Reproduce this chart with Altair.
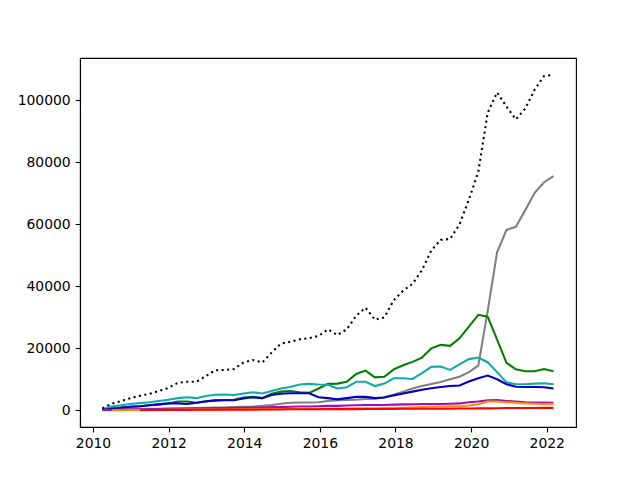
import altair as alt
import pandas as pd

# quarterly positions (decimal years)
years = [round(2010.25 + 0.2485 * i, 4) for i in range(49)]

# values in thousands
total_k = [0.6, 2.1, 3.0, 3.9, 4.7, 5.3, 6.2, 7.2, 8.8, 9.2, 9.2, 11.0, 12.9, 13.0, 13.3,
           15.4, 16.2, 15.4, 18.6, 21.5, 22.1, 22.9, 23.3, 24.0, 26.1, 24.3, 26.1, 30.5,
           33.1, 29.2, 30.0, 35.5, 38.6, 40.8, 45.2, 51.6, 55.0, 55.3, 60.0, 68.0, 77.0,
           96.0, 102.6, 98.0, 93.9, 97.4, 103.5, 107.9, 108.3]
gray_k = [0.2, 0.3, 0.3, 0.4, 0.4, 0.5, 0.5, 0.6, 0.6, 0.7, 0.7, 0.8, 0.9, 0.9, 1.0, 1.1,
          1.2, 1.4, 1.7, 2.1, 2.4, 2.5, 2.5, 2.6, 3.0, 3.2, 3.3, 3.4, 3.6, 3.7, 4.2, 5.0,
          6.0, 7.0, 7.8, 8.5, 9.1, 10.0, 10.8, 12.3, 14.4, 32.0, 51.0, 58.2, 59.2, 64.6,
          70.2, 73.6, 75.6]
green_k = [0.3, 0.6, 0.9, 1.1, 1.3, 1.6, 1.9, 2.2, 2.8, 2.8, 2.4, 2.8, 3.3, 3.3, 3.4, 4.1,
           4.3, 3.9, 5.3, 6.0, 6.2, 5.8, 5.6, 7.0, 8.5, 8.6, 9.2, 11.7, 12.8, 10.6, 10.8,
           13.2, 14.5, 15.6, 17.0, 20.0, 21.1, 20.8, 23.2, 27.0, 30.8, 30.2, 22.8, 15.3,
           13.2, 12.6, 12.6, 13.3, 12.6]
cyan_k = [0.3, 1.2, 1.6, 2.0, 2.3, 2.6, 3.0, 3.4, 3.9, 4.2, 3.9, 4.6, 5.0, 5.1, 4.9, 5.4,
          5.8, 5.4, 6.2, 7.0, 7.5, 8.3, 8.5, 8.3, 8.2, 7.0, 7.4, 9.2, 9.2, 7.8, 8.6, 10.3,
          10.3, 10.1, 12.0, 14.0, 14.1, 13.0, 14.8, 16.5, 17.0, 15.5, 12.3, 9.0, 8.4, 8.4,
          8.6, 8.7, 8.4]
blue_k = [0.1, 0.5, 0.8, 1.1, 1.3, 1.6, 1.9, 2.2, 2.2, 2.0, 2.4, 2.9, 3.1, 3.2, 3.2, 3.8,
          4.2, 3.9, 4.9, 5.3, 5.5, 5.5, 5.5, 4.2, 3.9, 3.5, 3.9, 4.3, 4.3, 3.9, 4.1, 4.8,
          5.4, 6.0, 6.6, 7.1, 7.5, 7.8, 8.0, 9.3, 10.3, 11.2, 10.0, 8.4, 7.6, 7.5, 7.5,
          7.4, 7.0]
purple_k = [0.1, 0.1, 0.2, 0.2, 0.3, 0.3, 0.4, 0.4, 0.5, 0.5, 0.6, 0.6, 0.7, 0.7, 0.8, 0.8,
            0.9, 0.9, 1.0, 1.0, 1.1, 1.2, 1.2, 1.3, 1.4, 1.4, 1.5, 1.6, 1.7, 1.7, 1.7, 1.8,
            1.9, 1.9, 2.0, 2.0, 2.0, 2.1, 2.2, 2.6, 2.8, 3.2, 3.3, 3.0, 2.8, 2.6, 2.5, 2.5,
            2.4]
orange_k = [None, 0.0, 0.0, 0.05, 0.1, 0.1, 0.1, 0.15, 0.15, 0.2, 0.2, 0.2, 0.25, 0.25, 0.3,
            0.3, 0.3, 0.35, 0.35, 0.4, 0.4, 0.4, 0.45, 0.45, 0.5, 0.5, 0.55, 0.6, 0.6, 0.65,
            0.7, 0.75, 0.8, 0.9, 1.0, 1.1, 1.2, 1.25, 1.3, 1.5, 1.9, 2.8, 2.8, 2.6, 2.4, 2.2,
            2.1, 2.0, 2.0]
red_k = [None, None, None, None, 0.0, 0.05, 0.05, 0.1, 0.1, 0.1, 0.15, 0.15, 0.15, 0.2, 0.2,
         0.2, 0.2, 0.25, 0.25, 0.25, 0.3, 0.3, 0.3, 0.3, 0.35, 0.35, 0.35, 0.35, 0.4, 0.4,
         0.4, 0.4, 0.45, 0.45, 0.45, 0.5, 0.5, 0.5, 0.55, 0.55, 0.6, 0.6, 0.65, 0.7, 0.7,
         0.7, 0.7, 0.75, 0.75]

series = [
    ("gray", gray_k, "#808080", None),
    ("green", green_k, "#008000", None),
    ("cyan", cyan_k, "#12a9a9", None),
    ("blue", blue_k, "#0000c8", None),
    ("purple", purple_k, "#a010b0", None),
    ("orange", orange_k, "#ff8c00", None),
    ("red", red_k, "#ff0000", None),
    ("total", total_k, "#000000", [2.08, 3.44]),
]

rows = []
for name, vals, _, _ in series:
    for t, v in zip(years, vals):
        if v is not None:
            rows.append({"series": name, "t": t, "v": v * 1000})
df = pd.DataFrame(rows)

x = alt.X("t:Q",
          scale=alt.Scale(domain=[2009.656, 2022.774], nice=False, zero=False),
          axis=alt.Axis(values=[2010, 2012, 2014, 2016, 2018, 2020, 2022], format="d", title=None))
y = alt.Y("v:Q",
          scale=alt.Scale(domain=[-5415, 113715], nice=False, zero=False),
          axis=alt.Axis(values=[0, 20000, 40000, 60000, 80000, 100000], format="d", title=None))

layers = []
for name, _, color, dash in series:
    kw = dict(color=color, strokeWidth=2.08, clip=True)
    if dash:
        kw["strokeDash"] = dash
        kw["strokeCap"] = "butt"
    layers.append(
        alt.Chart(df).transform_filter(alt.datum.series == name).mark_line(**kw).encode(x=x, y=y)
    )

chart = alt.layer(*layers).properties(
    width=496, height=369,
    padding={"left": 72, "top": 50, "right": 56, "bottom": 45},
    autosize=alt.AutoSizeParams(type="none"),
).configure_view(
    stroke="black", strokeWidth=1.1
).configure_axis(
    domainColor="black", domainWidth=1.1, tickColor="black", tickSize=4.9, tickWidth=1.1,
    labelFont="DejaVu Sans", labelFontSize=13.9, labelColor="black", labelPadding=4.9,
    grid=False
)

chart.save("out.html", embed_options={"renderer": "svg", "actions": False})
